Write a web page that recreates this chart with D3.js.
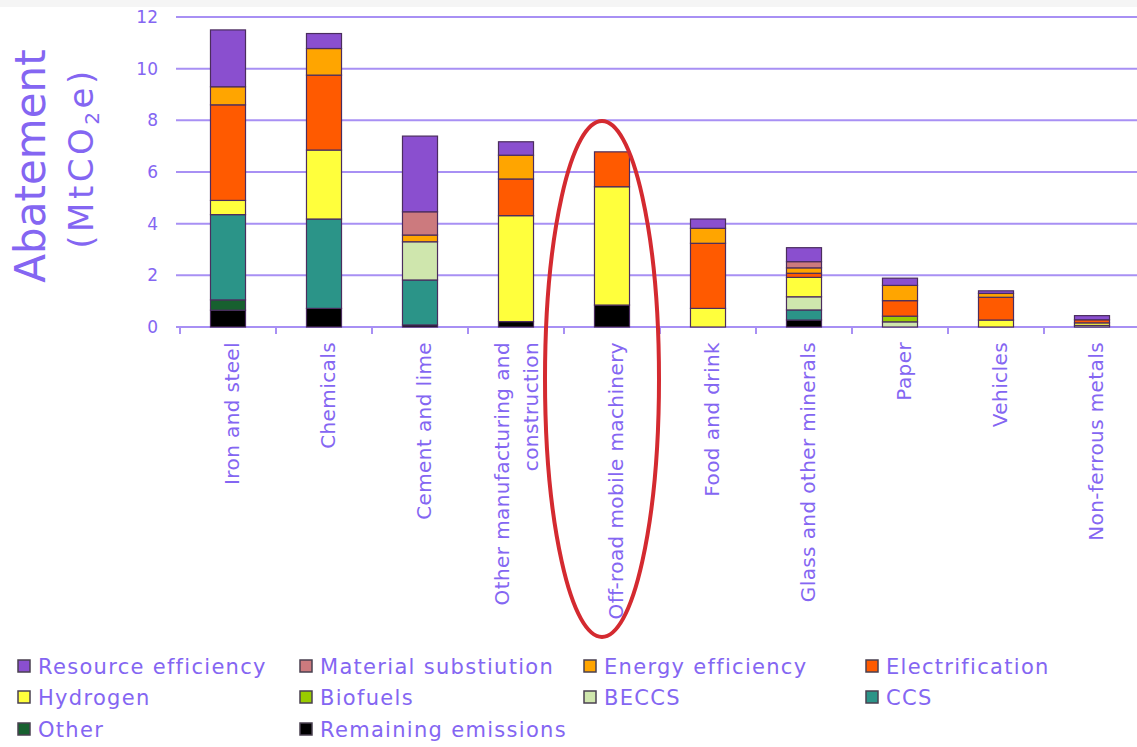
<!doctype html>
<html lang="en">
<head>
<meta charset="utf-8">
<title>Abatement by sector</title>
<style>
  body { margin: 0; background: #fff; }
  svg { display: block; font-family: "DejaVu Sans", sans-serif; }
</style>
</head>
<body>
<svg id="chart" width="1137" height="747"></svg>
<script src="https://cdn.jsdelivr.net/npm/d3@7"></script>
<script>
// sectors on the x axis (labels may have 2 lines)
var sectors = ["Iron and steel", "Chemicals", "Cement and lime",
  "Other manufacturing and construction", "Off-road mobile machinery",
  "Food and drink", "Glass and other minerals", "Paper", "Vehicles", "Non-ferrous metals"];
var sectorLines = [["Iron and steel"], ["Chemicals"], ["Cement and lime"],
  ["Other manufacturing and", "construction"], ["Off-road mobile machinery"],
  ["Food and drink"], ["Glass and other minerals"], ["Paper"], ["Vehicles"], ["Non-ferrous metals"]];

// stacked from bottom to top, MtCO2e per sector
var remaining   = [0.65, 0.72, 0.08, 0.21, 0.85, 0,    0.27, 0,    0,    0];
var other       = [0.40, 0,    0,    0,    0,    0,    0,    0,    0,    0];
var ccs         = [3.30, 3.46, 1.74, 0,    0,    0,    0.39, 0,    0,    0];
var beccs       = [0,    0,    1.48, 0,    0,    0,    0.51, 0.20, 0,    0.06];
var biofuels    = [0,    0,    0,    0,    0,    0,    0,    0.22, 0,    0];
var hydrogen    = [0.55, 2.67, 0,    4.10, 4.58, 0.72, 0.75, 0,    0.27, 0.10];
var electrific  = [3.70, 2.90, 0,    1.42, 1.35, 2.52, 0.16, 0.60, 0.88, 0.12];
var energyEff   = [0.70, 1.03, 0.26, 0.92, 0,    0.58, 0.21, 0.59, 0.15, 0];
var materialSub = [0,    0,    0.90, 0,    0,    0,    0.24, 0,    0,    0];
var resourceEff = [2.20, 0.58, 2.93, 0.52, 0,    0.36, 0.54, 0.28, 0.10, 0.16];

var yTicks = [0, 2, 4, 6, 8, 10, 12];

// legend order (row by row)
var legendNames = ["Resource efficiency", "Material substiution", "Energy efficiency", "Electrification",
  "Hydrogen", "Biofuels", "BECCS", "CCS", "Other", "Remaining emissions"];

var series = [
  {name: "Remaining emissions", values: remaining, color: "#000000"},
  {name: "Other", values: other, color: "#17602f"},
  {name: "CCS", values: ccs, color: "#2b9488"},
  {name: "BECCS", values: beccs, color: "#cfe6ad"},
  {name: "Biofuels", values: biofuels, color: "#99cc00"},
  {name: "Hydrogen", values: hydrogen, color: "#ffff3c"},
  {name: "Electrification", values: electrific, color: "#ff5a00"},
  {name: "Energy efficiency", values: energyEff, color: "#ffa500"},
  {name: "Material substiution", values: materialSub, color: "#cc7a7e"},
  {name: "Resource efficiency", values: resourceEff, color: "#8a4fcf"}
];

var textCol = "#8466f2";
var gridCol = "#a890f4";

var svg = d3.select("#chart");

// faint grey strip at the very top
svg.append("rect").attr("x", 0).attr("y", 0).attr("width", 1137).attr("height", 7).attr("fill", "#f5f5f5");

var x = d3.scaleBand().domain(sectors).range([180, 1140]).paddingInner(0.635).paddingOuter(0.3175);
var y = d3.scaleLinear().domain([0, 12]).range([327, 17]);

// table for d3.stack
var table = sectors.map(function(s, i) {
  var row = {sector: s};
  series.forEach(function(ser) { row[ser.name] = ser.values[i]; });
  return row;
});
var colorOf = {};
series.forEach(function(ser) { colorOf[ser.name] = ser.color; });

// gridlines + y labels
svg.append("g").selectAll("line").data(yTicks).enter().append("line")
  .attr("x1", 176).attr("x2", 1137)
  .attr("y1", function(d) { return y(d); }).attr("y2", function(d) { return y(d); })
  .attr("stroke", gridCol).attr("stroke-width", 2);

svg.append("g").selectAll("text").data(yTicks).enter().append("text")
  .attr("x", 158).attr("y", function(d) { return y(d) + 6; })
  .attr("text-anchor", "end").attr("font-size", 17).attr("fill", textCol)
  .text(function(d) { return d; });

// x tick marks between categories
var bounds = sectors.map(function(s) { return x(s) - x.step() * x.paddingInner() / 2; });
bounds.push(1140);
svg.append("g").selectAll("line").data(bounds).enter().append("line")
  .attr("x1", function(d) { return d; }).attr("x2", function(d) { return d; })
  .attr("y1", 327).attr("y2", 334)
  .attr("stroke", gridCol).attr("stroke-width", 2);

// stacked bars
var stacked = d3.stack().keys(series.map(function(s) { return s.name; }))(table);
svg.append("g").selectAll("g").data(stacked).enter().append("g")
  .attr("fill", function(d) { return colorOf[d.key]; })
  .selectAll("rect").data(function(d) { return d.filter(function(p) { return p[1] - p[0] > 0; }); })
  .enter().append("rect")
  .attr("x", function(d) { return x(d.data.sector); })
  .attr("width", x.bandwidth())
  .attr("y", function(d) { return y(d[1]); })
  .attr("height", function(d) { return y(d[0]) - y(d[1]); })
  .attr("stroke", "#4b2d5e").attr("stroke-width", 1.2);

// x labels, rotated
sectors.forEach(function(s, i) {
  var lines = sectorLines[i];
  var cx = x(s) + x.bandwidth() / 2;
  var firstBase = lines.length == 1 ? cx + 11 : cx - 7;
  lines.forEach(function(l, j) {
    svg.append("text")
      .attr("transform", "translate(" + (firstBase + j * 29) + ",342) rotate(-90)")
      .attr("text-anchor", "end").attr("font-size", 20).attr("letter-spacing", 0.4)
      .attr("fill", textCol).text(l);
  });
});

// y axis title
svg.append("text").attr("transform", "translate(45,166) rotate(-90)")
  .attr("text-anchor", "middle").attr("font-size", 42).attr("fill", textCol).text("Abatement");
var t2 = svg.append("text").attr("transform", "translate(93,158) rotate(-90)")
  .attr("text-anchor", "middle").attr("font-size", 34).attr("letter-spacing", 3.5).attr("fill", textCol);
t2.append("tspan").text("(MtCO");
t2.append("tspan").attr("font-size", 20).attr("dy", 6).text("2");
t2.append("tspan").attr("dy", -6).text("e)");

// highlight ellipse
svg.append("ellipse").attr("cx", 602).attr("cy", 379).attr("rx", 57).attr("ry", 258)
  .attr("fill", "none").attr("stroke", "#d42a30").attr("stroke-width", 4);

// legend
var colX = [18, 300, 584, 866];
var rowY = [666, 697, 729];
var leg = svg.append("g").selectAll("g").data(legendNames).enter().append("g")
  .attr("transform", function(d, i) { return "translate(" + colX[i % 4] + "," + rowY[Math.floor(i / 4)] + ")"; });
leg.append("rect").attr("x", 0).attr("y", -6).attr("width", 12).attr("height", 12)
  .attr("fill", function(d) { return colorOf[d]; })
  .attr("stroke", "#4a4050").attr("stroke-width", 1.5);
leg.append("text").attr("x", 20).attr("y", 7.5).attr("font-size", 21).attr("letter-spacing", 1.3)
  .attr("fill", textCol).text(function(d) { return d; });
</script>
</body>
</html>
